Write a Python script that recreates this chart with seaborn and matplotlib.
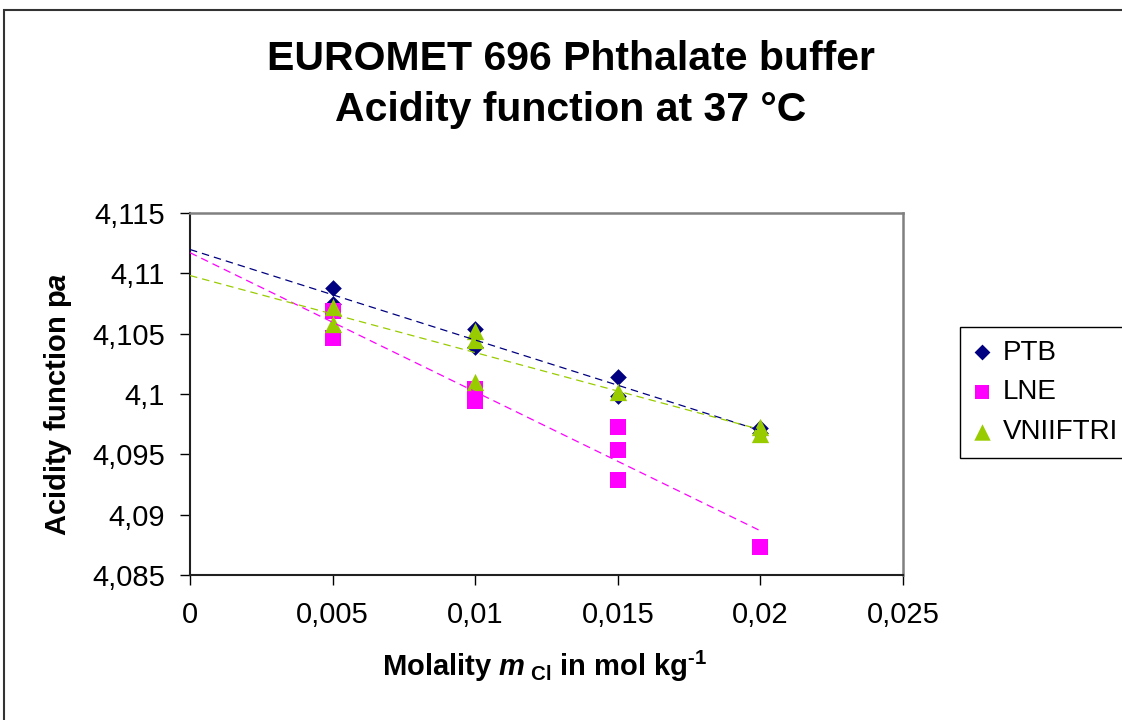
import numpy as np
import pandas as pd
import seaborn as sns
import matplotlib
matplotlib.use("Agg")
from matplotlib import pyplot as plt
from matplotlib.patches import Rectangle
from matplotlib.ticker import FuncFormatter

# molality m_Cl (mol/kg) and acidity function pa
ptb_m = [0.005, 0.005, 0.01, 0.01, 0.015, 0.015, 0.02, 0.02]
ptb_pa = [4.1088, 4.1075, 4.1054, 4.1039, 4.1014, 4.0998, 4.0972, 4.0968]

lne_m = [0.005, 0.005, 0.01, 0.01, 0.015, 0.015, 0.015, 0.02]
lne_pa = [4.1069, 4.1046, 4.1004, 4.0994, 4.0973, 4.0954, 4.0929, 4.0873]

vni_m = [0.005, 0.005, 0.01, 0.01, 0.01, 0.015, 0.02, 0.02]
vni_pa = [4.1072, 4.1058, 4.1052, 4.1045, 4.1010, 4.1002, 4.0973, 4.0967]

labs = ["PTB", "LNE", "VNIIFTRI"]
x_ticks = [0, 0.005, 0.01, 0.015, 0.02, 0.025]
y_ticks = [4.085, 4.09, 4.095, 4.1, 4.105, 4.11, 4.115]

df = pd.concat([
    pd.DataFrame({"m": ptb_m, "pa": ptb_pa, "lab": "PTB"}),
    pd.DataFrame({"m": lne_m, "pa": lne_pa, "lab": "LNE"}),
    pd.DataFrame({"m": vni_m, "pa": vni_pa, "lab": "VNIIFTRI"}),
], ignore_index=True)

colors = {"PTB": "#000080", "LNE": "#FF00FF", "VNIIFTRI": "#99CC00"}
markers = {"PTB": "D", "LNE": "s", "VNIIFTRI": "^"}
msizes = {"PTB": 72, "LNE": 118, "VNIIFTRI": 155}

sns.set_style("ticks")
plt.rcParams["font.family"] = ["Liberation Sans", "DejaVu Sans"]
plt.rcParams["text.color"] = "black"
plt.rcParams["axes.labelcolor"] = "black"
plt.rcParams["xtick.color"] = "black"
plt.rcParams["ytick.color"] = "black"
plt.rcParams["mathtext.fontset"] = "custom"
plt.rcParams["mathtext.rm"] = "Liberation Sans"
plt.rcParams["mathtext.bf"] = "Liberation Sans:bold"
plt.rcParams["mathtext.it"] = "Liberation Sans:italic"
plt.rcParams["mathtext.bfit"] = "Liberation Sans:italic:bold"

fig = plt.figure(figsize=(11.22, 7.2), dpi=100)
ax = fig.add_axes([190 / 1122, 1 - 575 / 720, 713 / 1122, 362 / 720])

for lab in labs:
    sub = df[df["lab"] == lab]
    sns.scatterplot(data=sub, x="m", y="pa", ax=ax, color=colors[lab],
                    marker=markers[lab], s=msizes[lab], linewidth=0,
                    label=lab, zorder=3)

# linear trendlines, extended back to m = 0 like the spreadsheet did
for lab in labs:
    sub = df[df["lab"] == lab]
    k, b = np.polyfit(sub["m"], sub["pa"], 1)
    xs = np.array([0, sub["m"].max()])
    ax.plot(xs, b + k * xs, color=colors[lab], lw=0.9,
            dashes=(6, 4), zorder=4)

ax.set_xlim(0, 0.025)
ax.set_ylim(4.085, 4.115)
ax.set_xticks(x_ticks)
ax.set_yticks(y_ticks)
fmt = FuncFormatter(lambda v, p: f"{v:g}".replace(".", ","))
ax.xaxis.set_major_formatter(fmt)
ax.yaxis.set_major_formatter(fmt)
ax.tick_params(axis="both", labelsize=21, length=7, width=1,
               color="black", labelcolor="black")
ax.tick_params(axis="y", pad=11)
ax.tick_params(axis="x", pad=12)

for s in ["left", "bottom"]:
    ax.spines[s].set_color("#202020")
    ax.spines[s].set_linewidth(1.5)
for s in ["top", "right"]:
    ax.spines[s].set_visible(True)
    ax.spines[s].set_color("#808080")
    ax.spines[s].set_linewidth(1.8)

ax.set_xlabel("Molality $\\mathbfit{m}_{\\mathbf{\\ Cl}}$ in mol kg$^{\\mathbf{\u20101}}$",
              fontsize=21, fontweight="bold", color="black")
ax.xaxis.label.set_va("baseline")
ax.xaxis.set_label_coords(0.497, (575 - 676) / 362)
ax.set_ylabel(r"Acidity function p$\mathbfit{a}$", fontsize=21,
              fontweight="bold", color="black")
ax.yaxis.label.set_va("center")
ax.yaxis.set_label_coords((58 - 190) / 713, 0.47)

fig.text(571 / 1122, 1 - 69.5 / 720, "EUROMET 696 Phthalate buffer",
         ha="center", va="baseline", fontsize=29.5, fontweight="bold", color="black")
fig.text(571 / 1122, 1 - 121 / 720, "Acidity function at 37 °C",
         ha="center", va="baseline", fontsize=29.5, fontweight="bold", color="black")

leg = ax.legend(loc="upper left", bbox_to_anchor=((960 - 190) / 713, (575 - 327) / 362),
                frameon=True, fancybox=False, framealpha=1, edgecolor="black",
                fontsize=20, handlelength=0.7, handletextpad=0.4,
                labelspacing=0.5, borderaxespad=0, borderpad=0.45,
                markerscale=0.95)
leg.get_frame().set_linewidth(1.0)
for t in leg.get_texts():
    t.set_color("black")

# outer chart-area border
fig.patches.append(Rectangle((4 / 1122, -0.1), 1.2, 1.1 - 10 / 720,
                             transform=fig.transFigure, fill=False,
                             edgecolor="#333333", lw=1.5))

fig.savefig("out.png", dpi=100)
